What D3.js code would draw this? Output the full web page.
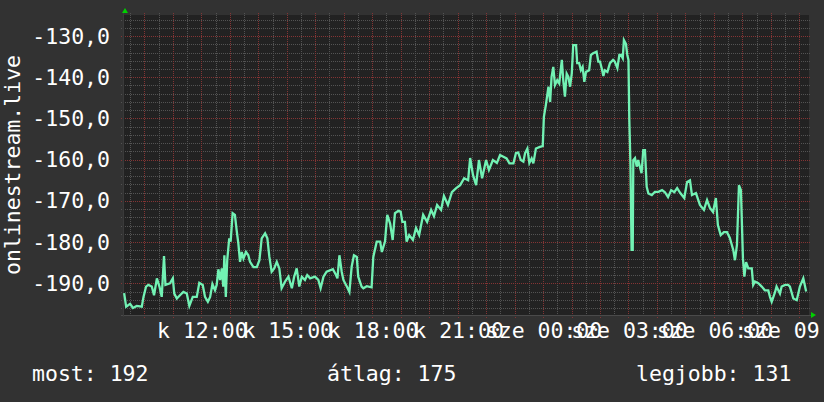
<!DOCTYPE html>
<html>
<head>
<meta charset="utf-8">
<script src="https://cdn.jsdelivr.net/npm/d3@7"></script>
<style>
    body { margin: 0; background: #323232; }
    svg { display: block; }
    text { font-family: "DejaVu Sans Mono", monospace; fill: #ffffff; }
</style>
</head>
<body>
<div id="chart"></div>
<script>
// Data (hours since day-1 midnight, rank shown as negative)
const hours = [
    9.29, 9.36, 9.50, 9.60, 9.73, 9.91, 9.97, 10.06, 10.14, 10.26,
    10.34, 10.44, 10.53, 10.61, 10.69, 10.74, 10.90, 11.00, 11.05, 11.14,
    11.25, 11.37, 11.49, 11.58, 11.70, 11.84, 11.93, 12.05, 12.13, 12.23,
    12.31, 12.39, 12.48, 12.54, 12.60, 12.66, 12.72, 12.77, 12.81, 12.86,
    12.91, 12.98, 13.03, 13.10, 13.18, 13.24, 13.30, 13.36, 13.42, 13.48,
    13.57, 13.65, 13.71, 13.83, 13.95, 14.04, 14.12, 14.24, 14.32, 14.39,
    14.47, 14.56, 14.65, 14.74, 14.82, 14.94, 15.06, 15.18, 15.26, 15.35,
    15.44, 15.53, 15.64, 15.72, 15.82, 15.99, 16.11, 16.19, 16.29, 16.40,
    16.62, 16.73, 16.78, 16.85, 16.93, 16.99, 17.11, 17.20, 17.28, 17.36,
    17.46, 17.51, 17.63, 17.69, 17.81, 17.98, 18.04, 18.16, 18.28, 18.34,
    18.45, 18.53, 18.63, 18.72, 18.80, 18.92, 19.00, 19.06, 19.15, 19.21, 19.30,
    19.43, 19.54, 19.65, 19.79, 19.93, 20.07, 20.17, 20.28, 20.42, 20.52,
    20.66, 20.80, 20.95, 21.09, 21.23, 21.37, 21.44, 21.54, 21.65, 21.75,
    21.86, 22.00, 22.10, 22.24, 22.38,
    22.49, 22.61, 22.72, 22.82, 22.96, 23.05, 23.13, 23.22, 23.31, 23.37,
    23.45, 23.52, 23.60, 23.66, 23.75, 23.89, 23.99, 24.03, 24.10, 24.19,
    24.25, 24.30, 24.36, 24.42, 24.50, 24.57, 24.66, 24.71, 24.77, 24.83,
    24.89, 24.95, 25.01, 25.06, 25.16, 25.20, 25.27, 25.33, 25.39, 25.45,
    25.51, 25.62, 25.68, 25.76, 25.88, 25.94, 26.00, 26.06, 26.12, 26.17,
    26.26, 26.35, 26.46, 26.52, 26.61, 26.68, 26.74, 26.80, 26.84, 26.91,
    26.96, 27.00, 27.03, 27.07, 27.11, 27.15, 27.17, 27.23, 27.29, 27.34,
    27.40, 27.46, 27.52, 27.58, 27.64, 27.70, 27.82, 27.93, 28.05,
    28.18, 28.28, 28.39, 28.50, 28.61, 28.71, 28.82, 28.96, 29.06, 29.16,
    29.23, 29.37, 29.51, 29.65, 29.76, 29.86, 29.97, 30.07, 30.14, 30.24,
    30.35, 30.46, 30.56, 30.68, 30.74, 30.81, 30.88, 30.95, 31.02, 31.07,
    31.13, 31.21, 31.33, 31.38, 31.44, 31.56, 31.68, 31.79, 31.91, 31.97,
    32.03, 32.15, 32.20, 32.32, 32.38, 32.50, 32.61, 32.67, 32.79, 32.91,
    33.02, 33.14, 33.24
];

const rank = [
    -192.4, -195.7, -195.0, -196.0, -195.5, -195.7, -193.3, -190.8, -190.4, -190.8,
    -192.9, -188.8, -190.8, -193.3, -183.4, -190.4, -190.0, -188.8, -192.5, -193.7,
    -192.9, -192.1, -192.5, -195.5, -193.3, -193.3, -189.9, -190.4, -193.3, -194.5,
    -193.3, -190.2, -191.7, -190.4, -186.6, -189.2, -186.4, -190.8, -183.2, -193.3,
    -184.4, -179.1, -179.9, -173.0, -173.4, -177.1, -180.3, -184.8, -182.4, -184.0,
    -182.4, -183.2, -184.8, -186.1, -186.1, -184.4, -179.1, -177.9, -179.1, -183.6,
    -187.2, -186.4, -184.8, -186.4, -191.2, -189.6, -188.4, -191.2, -188.4, -186.4,
    -190.8, -188.4, -189.2, -188.0, -188.8, -188.4, -189.2, -191.2, -188.4, -187.2,
    -186.6, -188.0, -188.8, -183.2, -187.2, -189.2, -190.8, -192.1, -186.0, -183.2,
    -183.6, -188.4, -190.8, -191.2, -190.7, -191.0, -183.6, -179.9, -179.9, -182.4,
    -179.9, -173.4, -175.5, -179.5, -173.0, -172.4, -172.6, -175.1, -175.1, -179.9, -178.3,
    -179.5, -176.6, -178.3, -173.4, -175.1, -172.2, -173.7, -171.0, -172.2, -168.8,
    -171.0, -167.9, -166.9, -166.2, -164.5, -165.0, -159.6, -163.7, -166.2, -160.1,
    -164.5, -160.1, -162.5, -160.1, -160.8,
    -158.9, -159.3, -159.7, -160.9, -160.9, -158.4, -158.3, -160.1, -160.5, -158.4,
    -157.3, -160.8, -159.7, -160.9, -157.3, -156.9, -156.7, -149.6, -146.7, -142.3,
    -146.0, -139.9, -137.5, -141.9, -140.7, -141.5, -135.8, -140.7, -144.7, -139.1,
    -139.9, -142.3, -139.1, -132.2, -132.2, -136.6, -136.6, -138.3, -137.5, -141.1,
    -138.7, -138.3, -134.6, -134.2, -133.8, -136.2, -136.2, -137.8, -139.7, -138.3,
    -138.7, -136.6, -135.8, -136.2, -137.8, -134.6, -134.6, -135.4, -131.0, -131.9,
    -134.6, -135.8, -150.4, -161.3, -181.9, -181.9, -160.1, -159.6, -161.7, -160.1,
    -161.7, -163.3, -157.7, -157.7, -166.6, -168.2, -168.6, -167.8, -167.8,
    -167.4, -167.9, -169.1, -167.4, -167.9, -166.9, -168.1, -169.3, -165.4, -165.0,
    -168.6, -168.1, -171.0, -172.2, -169.8, -171.7, -172.7, -169.3, -175.9, -178.3,
    -177.6, -177.6, -179.0, -181.9, -184.4, -180.7, -166.2, -167.4, -183.9, -188.4,
    -184.9, -186.4, -186.4, -190.4, -189.6, -190.0, -190.8, -191.7, -191.7, -193.3,
    -194.5, -192.1, -190.8, -192.5, -190.8, -190.4, -190.4, -190.8, -193.7, -194.1,
    -190.8, -188.8, -192.0
];

const yTicks = [-190, -180, -170, -160, -150, -140, -130];
const xLabelHours = [12, 15, 18, 21, 24, 27, 30, 33];
const xLabels = ["k 12:00", "k 15:00", "k 18:00", "k 21:00", "sze 00:00", "sze 03:00", "sze 06:00", "sze 09:00"];
const legendLabels = ["most: 192", "átlag: 175", "legjobb: 131"];
const seriesName = "onlinestream.live";

// Layout
const W = 824, H = 402;
const plot = { left: 123, right: 809, top: 15, bottom: 315 };
const fontSize = 21.5;

const svg = d3.select("#chart").append("svg")
    .attr("width", W)
    .attr("height", H);

svg.append("rect")
    .attr("width", W).attr("height", H)
    .attr("fill", "#323232");

// Scales
const x = d3.scaleLinear().domain([9.25, 33.34]).range([plot.left, plot.right]);
const y = d3.scaleLinear().domain([-197.7, -124.9]).range([plot.bottom, plot.top]);

// Plot area
svg.append("rect")
    .attr("x", plot.left).attr("y", plot.top)
    .attr("width", plot.right - plot.left)
    .attr("height", plot.bottom - plot.top)
    .attr("fill", "#222222");

// Grid: minor first, then major
const minorY = d3.range(-196, -124, 2).filter(v => v % 10 !== 0);
const minorX = d3.range(9.5, 33.34, 0.5).filter(h => h % 1 !== 0);
const majorX = d3.range(10, 33.34, 1);

const grid = svg.append("g").attr("shape-rendering", "crispEdges");

grid.selectAll(".hminor").data(minorY).enter().append("line")
    .attr("x1", plot.left - 2).attr("x2", plot.right + 1)
    .attr("y1", d => Math.round(y(d)) + 0.5).attr("y2", d => Math.round(y(d)) + 0.5)
    .attr("stroke", "#535353").attr("stroke-dasharray", "1,1");

grid.selectAll(".vminor").data(minorX).enter().append("line")
    .attr("y1", plot.top - 2).attr("y2", plot.bottom + 2)
    .attr("x1", d => Math.round(x(d)) + 0.5).attr("x2", d => Math.round(x(d)) + 0.5)
    .attr("stroke", "#535353").attr("stroke-dasharray", "1,1");

grid.selectAll(".hmajor").data(yTicks).enter().append("line")
    .attr("x1", plot.left - 2).attr("x2", plot.right + 2)
    .attr("y1", d => Math.round(y(d)) + 0.5).attr("y2", d => Math.round(y(d)) + 0.5)
    .attr("stroke", "#843434").attr("stroke-dasharray", "1,1");

grid.selectAll(".vmajor").data(majorX).enter().append("line")
    .attr("y1", plot.top - 2).attr("y2", plot.bottom + 3)
    .attr("x1", d => Math.round(x(d)) + 0.5).attr("x2", d => Math.round(x(d)) + 0.5)
    .attr("stroke", "#843434").attr("stroke-dasharray", "1,1");

// Axis lines
grid.append("line")
    .attr("x1", plot.left - 2).attr("x2", plot.right + 3)
    .attr("y1", plot.bottom + 0.5).attr("y2", plot.bottom + 0.5)
    .attr("stroke", "#4a4a4a");
grid.append("line")
    .attr("x1", plot.left + 0.5).attr("x2", plot.left + 0.5)
    .attr("y1", plot.top - 3).attr("y2", plot.bottom + 2)
    .attr("stroke", "#3a3a3a");

// Arrows
svg.append("path")
    .attr("d", `M${plot.left - 1},${plot.top - 2} L${plot.left + 5},${plot.top - 2} L${plot.left + 2},${plot.top - 7} Z`)
    .attr("fill", "#00d000");
svg.append("path")
    .attr("d", `M${plot.right + 2},${plot.bottom - 3} L${plot.right + 2},${plot.bottom + 3} L${plot.right + 7},${plot.bottom} Z`)
    .attr("fill", "#00d000");

// Series line
const line = d3.line()
    .x(d => x(d[0]))
    .y(d => y(d[1]));

svg.append("path")
    .datum(d3.zip(hours, rank))
    .attr("fill", "none")
    .attr("stroke", "#72f2b4")
    .attr("stroke-width", 2.3)
    .attr("stroke-linejoin", "miter")
    .attr("d", line);

// Y labels
svg.selectAll(".ylab").data(yTicks).enter().append("text")
    .attr("x", 110)
    .attr("y", d => y(d) + 7.5)
    .attr("text-anchor", "end")
    .attr("font-size", fontSize)
    .text(d => d3.format(".1f")(d).replace("−", "-").replace(".", ","));

// X labels (later ones overdraw earlier ones)
svg.selectAll(".xlab").data(xLabelHours).enter().append("text")
    .attr("x", d => x(d) + 1)
    .attr("y", 338)
    .attr("text-anchor", "middle")
    .attr("font-size", fontSize)
    .text((d, i) => xLabels[i]);

// Y title
svg.append("text")
    .attr("transform", `translate(20,${(plot.top + plot.bottom) / 2}) rotate(-90)`)
    .attr("text-anchor", "middle")
    .attr("font-size", fontSize)
    .text(seriesName);

// Legend
const legendX = [32, 327, 636];
svg.selectAll(".leg").data(legendLabels).enter().append("text")
    .attr("x", (d, i) => legendX[i])
    .attr("y", 381)
    .attr("font-size", fontSize)
    .text(d => d);
</script>
</body>
</html>
